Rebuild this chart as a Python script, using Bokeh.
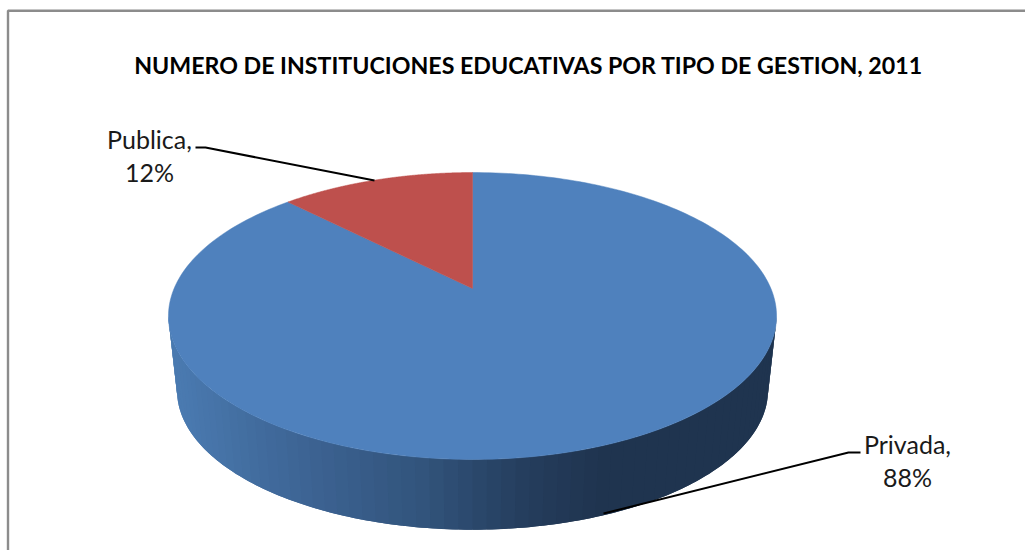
import numpy as np
from bokeh.plotting import figure
from bokeh.embed import file_html
from bokeh.resources import INLINE
from bokeh.core.properties import value

TITLE = "NUMERO DE INSTITUCIONES EDUCATIVAS POR TIPO DE GESTION, 2011"
categories = ["Privada", "Publica"]
shares = [87.6, 12.4]
colors = ["#4F81BD", "#BE504D"]

# 3D projection of the pie, in reference pixels
CX, APEX_Y = 472.0, 288.0
A, B, K = 298.4, 138.2, 0.1917
BOTTOM_SCALE, BOTTOM_APEX_Y = 0.972, 363.0
RAMP_X = [176, 300, 420, 520, 600, 770]
RAMP_RGB = [(74, 122, 176), (61, 100, 148), (50, 84, 124), (37, 62, 94), (31, 52, 79), (31, 52, 79)]


def top_rim(t):
    d = 1 + K * np.cos(t)
    return CX + A * np.sin(t) / d, APEX_Y - B * np.cos(t) / d


def bottom_rim(t):
    d = 1 + K * np.cos(t)
    return CX + BOTTOM_SCALE * A * np.sin(t) / d, BOTTOM_APEX_Y - BOTTOM_SCALE * B * np.cos(t) / d


p = figure(width=1025, height=550, x_range=(0, 1025), y_range=(550, 0),
           output_backend="svg", toolbar_location=None, min_border=0,
           outline_line_color=None, background_fill_color="white",
           border_fill_color="white")
p.axis.visible = False
p.grid.visible = False

# frame of the original picture
p.line([7.5, 7.5, 1025], [550, 10.2, 10.2], line_color="#8C8C8C", line_width=2.4)

# side wall: overlapping bands between both rims, darkening to the right
edge = np.arccos(-K)
ts = np.linspace(edge, 2 * np.pi - edge, 71)
xs, ys, fills = [], [], []
for i in range(len(ts) - 1):
    t0, t1 = ts[i], ts[min(i + 2, len(ts) - 1)]
    tt = np.linspace(t0, t1, 6)
    tx, ty = top_rim(tt)
    bx, by = bottom_rim(tt)
    xs.append(np.r_[tx, bx[::-1]])
    ys.append(np.r_[ty, by[::-1]])
    xm = (top_rim(ts[i])[0] + top_rim(ts[i + 1])[0]) / 2
    rgb = [int(round(np.interp(xm, RAMP_X, [c[j] for c in RAMP_RGB]))) for j in range(3)]
    fills.append("#%02x%02x%02x" % tuple(rgb))
p.patches(xs, ys, fill_color=fills, line_color=None)

# top face: one wedge per share, clockwise from twelve o'clock
start = 0.0
for share, color in zip(shares, colors):
    end = start + share / sum(shares) * 2 * np.pi
    t = np.linspace(start, end, 240)
    rx, ry = top_rim(t)
    p.patch(np.r_[CX, rx], np.r_[APEX_Y, ry], fill_color=color, line_color=color, line_width=0.5)
    start = end

# leader lines
p.line([195, 205, 374], [147, 147, 180], line_color="black", line_width=2)
p.line([860, 848, 603], [452, 452, 513], line_color="black", line_width=2)

font = value("Lato")
p.text([528], [64], text=[TITLE], text_font=font, text_font_style="bold",
       text_font_size="23.2px", text_color="black", text_align="center", text_baseline="middle")
label_x = {"Privada": 907, "Publica": 149}
label_y = {"Privada": 460, "Publica": 155}
for name, share in zip(categories, shares):
    p.text([label_x[name]], [label_y[name]], text=[f"{name},\n{round(share)}%"], text_font=font,
           text_font_size="25px", text_color="#1a1a1a", text_align="center",
           text_baseline="middle", text_line_height=1.07)

open("out.html", "w").write(file_html(p, INLINE))
